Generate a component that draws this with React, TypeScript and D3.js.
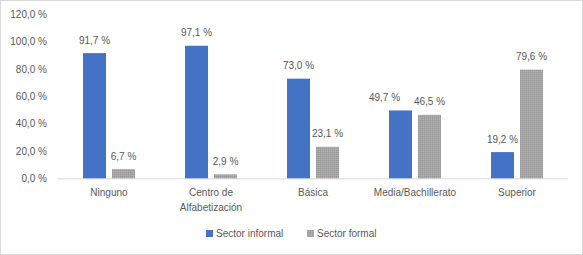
import React from "react";
import * as d3 from "d3";

const categories = ["Ninguno", "Centro de\nAlfabetización", "Básica", "Media/Bachillerato", "Superior"];
const informal = [91.7, 97.1, 73.0, 49.7, 19.2];
const formal = [6.7, 2.9, 23.1, 46.5, 79.6];
const yTicks = [0, 20, 40, 60, 80, 100, 120];
const seriesNames = ["Sector informal", "Sector formal"];

const W = 583, H = 255;
const left = 58, right = 568, top = 14.5, bottom = 178.3;
const fmt = (v: number) => v.toFixed(1).replace(".", ",") + " %";
const font = "'Liberation Sans', Arial, sans-serif";
const textColor = "#595959";
const labelW = 32;

export default function App() {
  const x = d3.scaleBand<number>().domain(d3.range(categories.length)).range([left, right]).paddingInner(0).paddingOuter(0);
  const y = d3.scaleLinear().domain([0, 120]).range([bottom, top]);
  const bw = 23, gap = 6;
  const series = [
    { name: seriesNames[0], values: informal, fill: "#4472c4" },
    { name: seriesNames[1], values: formal, fill: "url(#grayPat)" },
  ];
  return (
    <svg width={W} height={H} style={{ position: "absolute", left: 0, top: 0 }} fontFamily={font}>
      <defs>
        <pattern id="grayPat" width="2" height="2" patternUnits="userSpaceOnUse">
          <rect width="2" height="2" fill="#a5a5a5" />
          <rect width="1" height="1" fill="#9a9a9a" />
          <rect x="1" y="1" width="1" height="1" fill="#b0b0b0" />
        </pattern>
      </defs>
      <rect x={0.5} y={0.5} width={W - 1} height={H - 1} fill="#fff" stroke="#d9d9d9" />
      {yTicks.map((t) => (
        <text key={t} x={47} y={y(t)} dy="0.35em" textAnchor="end" fontSize={10} fill={textColor}>
          {fmt(t)}
        </text>
      ))}
      <line x1={left} x2={right} y1={bottom + 0.5} y2={bottom + 0.5} stroke="#d9d9d9" />
      {categories.map((c, i) => {
        const cx = (x(i) as number) + x.bandwidth() / 2;
        const lines = c.split("\n");
        const bxs = [cx - gap / 2 - bw, cx + gap / 2];
        const ly = [y(informal[i]) - 9.5, y(formal[i]) - 9.5];
        const lcx = [bxs[0] + bw / 2, bxs[1] + bw / 2];
        const overlap = Math.abs(ly[0] - ly[1]) < 12 && lcx[0] + labelW / 2 > lcx[1] - labelW / 2;
        if (overlap) lcx[0] = lcx[1] - labelW / 2 - 13 - labelW / 2;
        return (
          <g key={c}>
            {series.map((s, j) => {
              const v = s.values[i];
              return (
                <g key={s.name}>
                  <rect x={bxs[j]} y={y(v)} width={bw} height={y(0) - y(v)} fill={s.fill} />
                  <text x={lcx[j]} y={ly[j]} textAnchor="middle" fontSize={10} fill={textColor}>
                    {fmt(v)}
                  </text>
                </g>
              );
            })}
            {lines.map((l, k) => (
              <text key={k} x={cx} y={196 + k * 15} textAnchor="middle" fontSize={10} fill={textColor}>
                {l}
              </text>
            ))}
          </g>
        );
      })}
      {series.map((s, j) => {
        const lx = j === 0 ? 206 : 307;
        return (
          <g key={s.name}>
            <rect x={lx} y={230} width={7} height={7} fill={s.fill} />
            <text x={lx + 10} y={237} fontSize={10} fill={textColor}>
              {s.name}
            </text>
          </g>
        );
      })}
    </svg>
  );
}
